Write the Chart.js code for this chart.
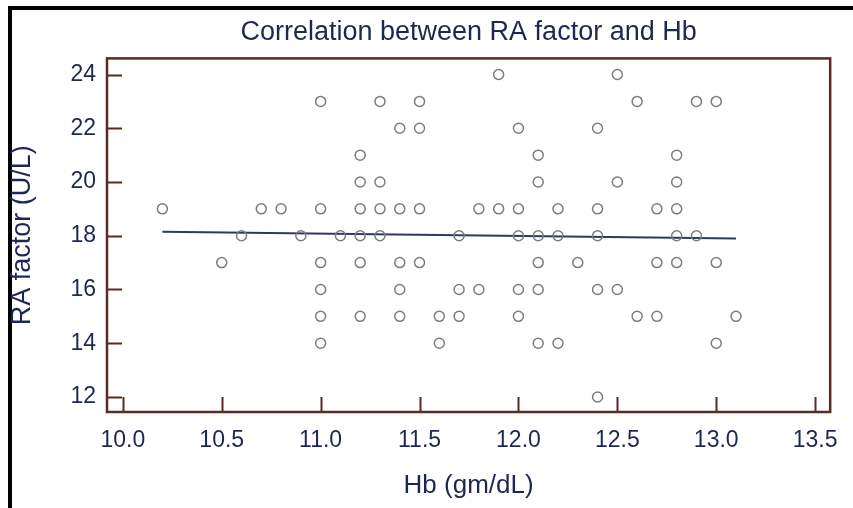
<!DOCTYPE html>
<html lang="en">
<head>
    <meta charset="UTF-8">
    <title>Correlation between RA factor and Hb</title>
    <script src="https://cdn.jsdelivr.net/npm/chart.js"></script>
    <style>
        body {
            margin: 0;
            background: #ffffff;
        }
        canvas {
            display: block;
        }
    </style>
</head>
<body>
    <canvas id="raChart" width="853" height="508"></canvas>

    <script>
        // Hb (gm/dL) and RA factor (U/L) pairs
        const hbValues = [
            11.9, 12.5,
            11.0, 11.3, 11.5, 12.6, 12.9, 13.0,
            11.4, 11.5, 12.0, 12.4,
            11.2, 12.1, 12.8,
            11.2, 11.3, 12.1, 12.5, 12.8,
            10.2, 10.7, 10.8, 11.0, 11.2, 11.3, 11.4, 11.5, 11.8, 11.9, 12.0, 12.2, 12.4, 12.7, 12.8,
            10.6, 10.9, 11.1, 11.2, 11.3, 11.7, 12.0, 12.1, 12.2, 12.4, 12.8, 12.9,
            10.5, 11.0, 11.2, 11.4, 11.5, 12.1, 12.3, 12.7, 12.8, 13.0,
            11.0, 11.4, 11.7, 11.8, 12.0, 12.1, 12.4, 12.5,
            11.0, 11.2, 11.4, 11.6, 11.7, 12.0, 12.6, 12.7, 13.1,
            11.0, 11.6, 12.1, 12.2, 13.0,
            12.4
        ];
        const raValues = [
            24, 24,
            23, 23, 23, 23, 23, 23,
            22, 22, 22, 22,
            21, 21, 21,
            20, 20, 20, 20, 20,
            19, 19, 19, 19, 19, 19, 19, 19, 19, 19, 19, 19, 19, 19, 19,
            18, 18, 18, 18, 18, 18, 18, 18, 18, 18, 18, 18,
            17, 17, 17, 17, 17, 17, 17, 17, 17, 17,
            16, 16, 16, 16, 16, 16, 16, 16,
            15, 15, 15, 15, 15, 15, 15, 15, 15,
            14, 14, 14, 14, 14,
            12
        ];

        // fitted regression line, ends only
        const trendHb = [10.2, 13.1];
        const trendRa = [18.15, 17.9];

        const xTicks = [10.0, 10.5, 11.0, 11.5, 12.0, 12.5, 13.0, 13.5];
        const yTicks = [12, 14, 16, 18, 20, 22, 24];

        const textColor = '#1d2852';
        const frameColor = '#5b2a22';
        const fontFamily = "'Liberation Sans', Arial, sans-serif";

        const points = hbValues.map((x, i) => ({ x: x, y: raValues[i] }));
        const trend = trendHb.map((x, i) => ({ x: x, y: trendRa[i] }));

        // outer black border plus the brown frame with inward ticks
        const framePlugin = {
            id: 'frame',
            beforeDraw(chart) {
                const ctx = chart.ctx;
                ctx.save();
                ctx.fillStyle = '#000000';
                ctx.fillRect(8, 6, chart.width - 8, 4);
                ctx.fillRect(8, 6, 4, chart.height - 6);
                ctx.restore();
            },
            afterDraw(chart) {
                const ctx = chart.ctx;
                const area = chart.chartArea;
                const xs = chart.scales.x;
                const ys = chart.scales.y;
                ctx.save();
                ctx.strokeStyle = frameColor;
                ctx.lineWidth = 2;
                ctx.beginPath();
                xTicks.forEach(v => {
                    const px = Math.round(xs.getPixelForValue(v)) + 0.5;
                    ctx.moveTo(px, area.bottom);
                    ctx.lineTo(px, area.bottom - 15);
                });
                yTicks.forEach(v => {
                    const py = Math.round(ys.getPixelForValue(v)) + 0.5;
                    ctx.moveTo(area.left, py);
                    ctx.lineTo(area.left + 15, py);
                });
                ctx.stroke();
                ctx.lineWidth = 2.5;
                ctx.strokeRect(area.left, area.top, area.right - area.left, area.bottom - area.top);
                ctx.restore();
            }
        };

        new Chart(document.getElementById('raChart'), {
            type: 'scatter',
            data: {
                datasets: [{
                    label: 'Patients',
                    data: points,
                    pointRadius: 5,
                    pointHoverRadius: 5,
                    borderWidth: 1.5,
                    borderColor: '#7d7d7d',
                    backgroundColor: 'rgba(255,255,255,0)'
                }, {
                    label: 'Regression',
                    type: 'line',
                    data: trend,
                    borderColor: '#2e3a5c',
                    borderWidth: 2,
                    pointRadius: 0,
                    fill: false
                }]
            },
            options: {
                responsive: false,
                animation: false,
                layout: {
                    padding: { top: 4, right: 22, bottom: 0, left: 0 }
                },
                plugins: {
                    legend: { display: false },
                    tooltip: { enabled: false },
                    title: {
                        display: true,
                        fullSize: false,
                        text: 'Correlation between RA factor and Hb',
                        color: textColor,
                        font: { family: fontFamily, size: 27, weight: 'normal' },
                        padding: { top: 12, bottom: 10 }
                    }
                },
                scales: {
                    x: {
                        type: 'linear',
                        min: 9.92,
                        max: 13.576,
                        afterBuildTicks: scale => { scale.ticks = xTicks.map(v => ({ value: v })); },
                        afterFit: scale => { scale.height = 96; },
                        grid: { display: false, drawTicks: false },
                        border: { display: false },
                        ticks: {
                            color: textColor,
                            padding: 15,
                            font: { family: fontFamily, size: 23 },
                            callback: v => v.toFixed(1)
                        },
                        title: {
                            display: true,
                            text: 'Hb (gm/dL)',
                            color: textColor,
                            font: { family: fontFamily, size: 26 },
                            padding: { top: 0, bottom: 7 }
                        }
                    },
                    y: {
                        type: 'linear',
                        min: 11.44,
                        max: 24.6,
                        afterBuildTicks: scale => { scale.ticks = yTicks.map(v => ({ value: v })); },
                        afterFit: scale => { scale.width = 107; },
                        grid: { display: false, drawTicks: false },
                        border: { display: false },
                        ticks: {
                            color: textColor,
                            padding: 11,
                            font: { family: fontFamily, size: 23 },
                            callback: v => String(v)
                        },
                        title: {
                            display: true,
                            text: 'RA factor (U/L)',
                            color: textColor,
                            font: { family: fontFamily, size: 27 },
                            padding: { top: 6, bottom: 0 }
                        }
                    }
                }
            },
            plugins: [framePlugin]
        });
    </script>
</body>
</html>
